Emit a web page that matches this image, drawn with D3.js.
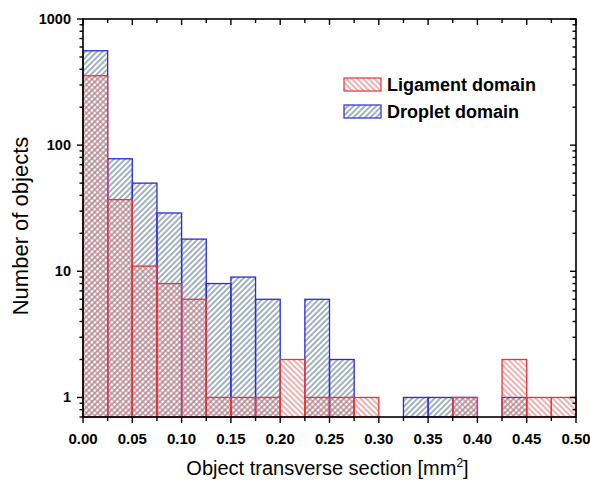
<!DOCTYPE html>
<html><head><meta charset="utf-8">
<script src="https://cdn.jsdelivr.net/npm/d3@7"></script>
<style>body{margin:0;background:#fff}svg{display:block}</style>
</head><body>
<script>
const binStarts = [0,0.025,0.05,0.075,0.1,0.125,0.15,0.175,0.2,0.225,0.25,0.275,0.3,0.325,0.35,0.375,0.4,0.425,0.45,0.475];
const binWidth = 0.025;
const ligament = [355,37,11,8,6,1,1,1,2,1,1,1,0,0,0,1,0,2,1,1];
const droplet  = [560,78,50,29,18,8,9,6,0,6,2,0,0,1,1,1,0,1,0,0];
const xTicks = [0,0.05,0.1,0.15,0.2,0.25,0.3,0.35,0.4,0.45,0.5];
const yTicks = [1,10,100,1000];
const seriesNames = ["Ligament domain","Droplet domain"];

const W=590,H=484, m={l:83,r:14,t:19,b:67};
const svg=d3.select("body").append("svg").attr("width",W).attr("height",H);
const defs=svg.append("defs");
function hatch(id,color,dir){
  const p=defs.append("pattern").attr("id",id).attr("patternUnits","userSpaceOnUse")
    .attr("width",4).attr("height",4).attr("patternTransform",`rotate(${dir})`);
  p.append("line").attr("x1",1).attr("y1",0).attr("x2",1).attr("y2",4)
    .attr("stroke",color).attr("stroke-width",1);
}
hatch("hr","#e06262",-45);
hatch("hb","#46637f",45);

const x=d3.scaleLinear().domain([0,0.5]).range([m.l,W-m.r]);
const y=d3.scaleLog().domain([0.7,1000]).range([H-m.b,m.t]);
const y0=y.range()[0];

const g=svg.append("g");
function bars(vals,fill,stroke){
  g.selectAll(null).data(binStarts.map((s,i)=>({s,v:vals[i]})).filter(d=>d.v>0))
   .enter().append("rect")
   .attr("x",d=>x(d.s)).attr("width",d=>x(d.s+binWidth)-x(d.s))
   .attr("y",d=>y(d.v)).attr("height",d=>y0-y(d.v))
   .attr("fill",fill).attr("stroke",stroke).attr("stroke-width",1.3);
}
bars(droplet,"url(#hb)","#2a2ae0");
bars(ligament,"url(#hr)","#e83535");

svg.append("rect").attr("x",m.l).attr("y",m.t).attr("width",W-m.r-m.l).attr("height",H-m.b-m.t)
  .attr("fill","none").attr("stroke","#000").attr("stroke-width",1.6);

const minorX=d3.range(0,21).map(i=>i*0.025);
const minorY=[];
[0.1,1,10,100].forEach(d=>{for(let k=2;k<=9;k++){const v=d*k; if(v>=0.7&&v<=1000) minorY.push(v);}});

const tk=svg.append("g").attr("stroke","#000").attr("stroke-width",1.4);
minorX.forEach((v,i)=>{const L=i%2===0?6:4;
  tk.append("line").attr("x1",x(v)).attr("x2",x(v)).attr("y1",y0).attr("y2",y0+L);
  tk.append("line").attr("x1",x(v)).attr("x2",x(v)).attr("y1",m.t).attr("y2",m.t+L);
});
yTicks.forEach(v=>{
  tk.append("line").attr("x1",m.l-6).attr("x2",m.l).attr("y1",y(v)).attr("y2",y(v));
  tk.append("line").attr("x1",W-m.r-6).attr("x2",W-m.r).attr("y1",y(v)).attr("y2",y(v));
});
minorY.forEach(v=>{
  tk.append("line").attr("x1",m.l-3.5).attr("x2",m.l).attr("y1",y(v)).attr("y2",y(v));
  tk.append("line").attr("x1",W-m.r-3.5).attr("x2",W-m.r).attr("y1",y(v)).attr("y2",y(v));
});

const font="Liberation Sans, Arial, sans-serif";
svg.append("g").selectAll("text").data(xTicks).enter().append("text")
  .attr("x",d=>x(d)).attr("y",y0+26.5).attr("text-anchor","middle")
  .attr("font-family",font).attr("font-weight","bold").attr("font-size",15)
  .text(d=>d.toFixed(2));
svg.append("g").selectAll("text").data(yTicks).enter().append("text")
  .attr("x",m.l-12).attr("y",d=>y(d)+5).attr("text-anchor","end")
  .attr("font-family",font).attr("font-weight","bold").attr("font-size",14.5)
  .text(d=>d);

const xl=svg.append("text").attr("x",(m.l+W-m.r)/2-2).attr("y",y0+58).attr("text-anchor","middle")
  .attr("font-family",font).attr("font-size",20);
xl.append("tspan").text("Object transverse section [mm");
xl.append("tspan").attr("font-size",12).attr("dy",-8).text("2");
xl.append("tspan").attr("dy",8).text("]");

svg.append("text").attr("transform",`translate(28,226) rotate(-90)`)
  .attr("text-anchor","middle").attr("font-family",font).attr("font-size",22)
  .text("Number of objects");

const leg=[{n:seriesNames[0],f:"url(#hr)",s:"#e83535"},{n:seriesNames[1],f:"url(#hb)",s:"#2a2ae0"}];
leg.forEach((d,i)=>{
  const yy=78+i*27;
  svg.append("rect").attr("x",344).attr("y",yy).attr("width",37).attr("height",13)
    .attr("fill",d.f).attr("stroke",d.s).attr("stroke-width",1.2);
  svg.append("text").attr("x",387).attr("y",yy+13).attr("font-family",font)
    .attr("font-weight","bold").attr("font-size",18).text(d.n);
});
</script>
</body></html>
